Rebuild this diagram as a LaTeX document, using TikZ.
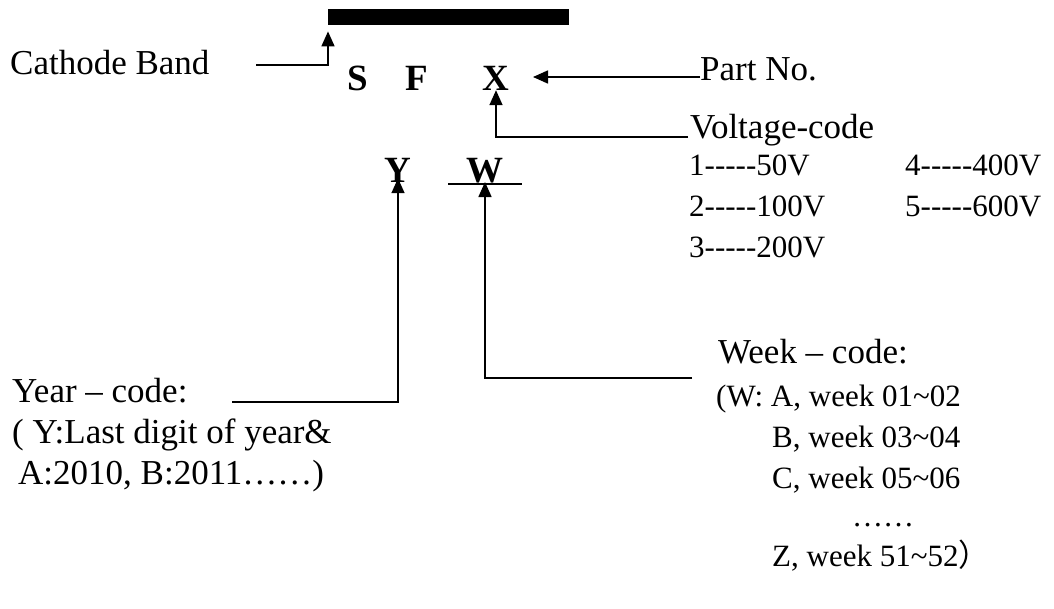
\documentclass[tikz,border=0pt]{standalone}
\usepackage{fontspec}
\setmainfont{Liberation Serif}[Ligatures=TeXOff]
\newfontfamily\cjkfont{Noto Sans CJK SC}
\usetikzlibrary{arrows.meta}

\tikzset{
  lab/.style={anchor=base west, inner sep=0pt, font=\fontsize{35}{40}\selectfont},
  tab/.style={anchor=base west, inner sep=0pt, font=\fontsize{31}{36}\selectfont},
  code/.style={anchor=base, inner sep=0pt, font=\fontsize{37}{40}\selectfont\bfseries},
  lead/.style={line width=1.6pt, -{Triangle[length=15pt,width=13pt]}},
}

\begin{document}
\begin{tikzpicture}[x=1pt,y=-1pt]
                \useasboundingbox (0,0) rectangle (1054,608);

                \node[fill, inner sep=0pt, minimum width=241pt, minimum height=16pt,
                      anchor=north west] (band) at (328,9) {};

                \node[code] (S) at (358,90) {S};
                \node[code] (F) at (417,90) {F};
                \node[code] (X) at (496,90) {X};
                \node[code] (Y) at (398,182) {Y};
                \node[code] (W) at (485,182) {W};

                \node[lab] (cathode) at (10,74) {Cathode Band};
                \node[lab] (partno) at (700,80) {Part No.};
                \node[lab] (volt) at (690,138) {Voltage-code};
                \node[lab] (year) at (12,402) {Year – code:};
                \node[lab] (yeara) at (12,443) {( Y:Last digit of year\&};
                \node[lab] (yearb) at (18,484) {A:2010, B:2011……)};
                \node[lab] (week) at (718,363) {Week – code:};

                \node[tab] (v1) at (689,175) {1-----50V};
                \node[tab] (v4) at (905,175) {4-----400V};
                \node[tab] (v2) at (689,216) {2-----100V};
                \node[tab] (v5) at (905,216) {5-----600V};
                \node[tab] (v3) at (689,257) {3-----200V};

                \node[tab] (wa) at (716,406) {(W: A, week 01\textasciitilde 02};
                \node[tab] (wb) at (772,447) {B, week 03\textasciitilde 04};
                \node[tab] (wc) at (772,488) {C, week 05\textasciitilde 06};
                \node[tab] (wd) at (852,526) {……};
                \node[tab] (wz) at (772,566) {Z, week 51\textasciitilde 52{\cjkfont ）}};

                \coordinate (cb) at (256,65);
                \coordinate (pn) at (700,77);
                \coordinate (pnend) at (533,77);
                \coordinate (vc) at (688,137);
                \coordinate (yc) at (232,402);
                \coordinate (wk) at (692,378);
                \coordinate (wbar) at (485,184);

                \draw[lead] (cb) -- (band.south west |- cb) -- ([yshift=-6pt]band.south west);
                \draw[lead] (pn) -- (pnend);
                \draw[lead] (vc) -- (X.south |- vc) -- (X.south);
                \draw[lead] (yc) -- (Y.south |- yc) -- ([yshift=4pt]Y.south);
                \draw[lead] (wk) -- (wbar |- wk) -- ([yshift=2pt]wbar);
                \draw[line width=1.6pt] (448,184) -- (522,184);

            \end{tikzpicture}
\end{document}
